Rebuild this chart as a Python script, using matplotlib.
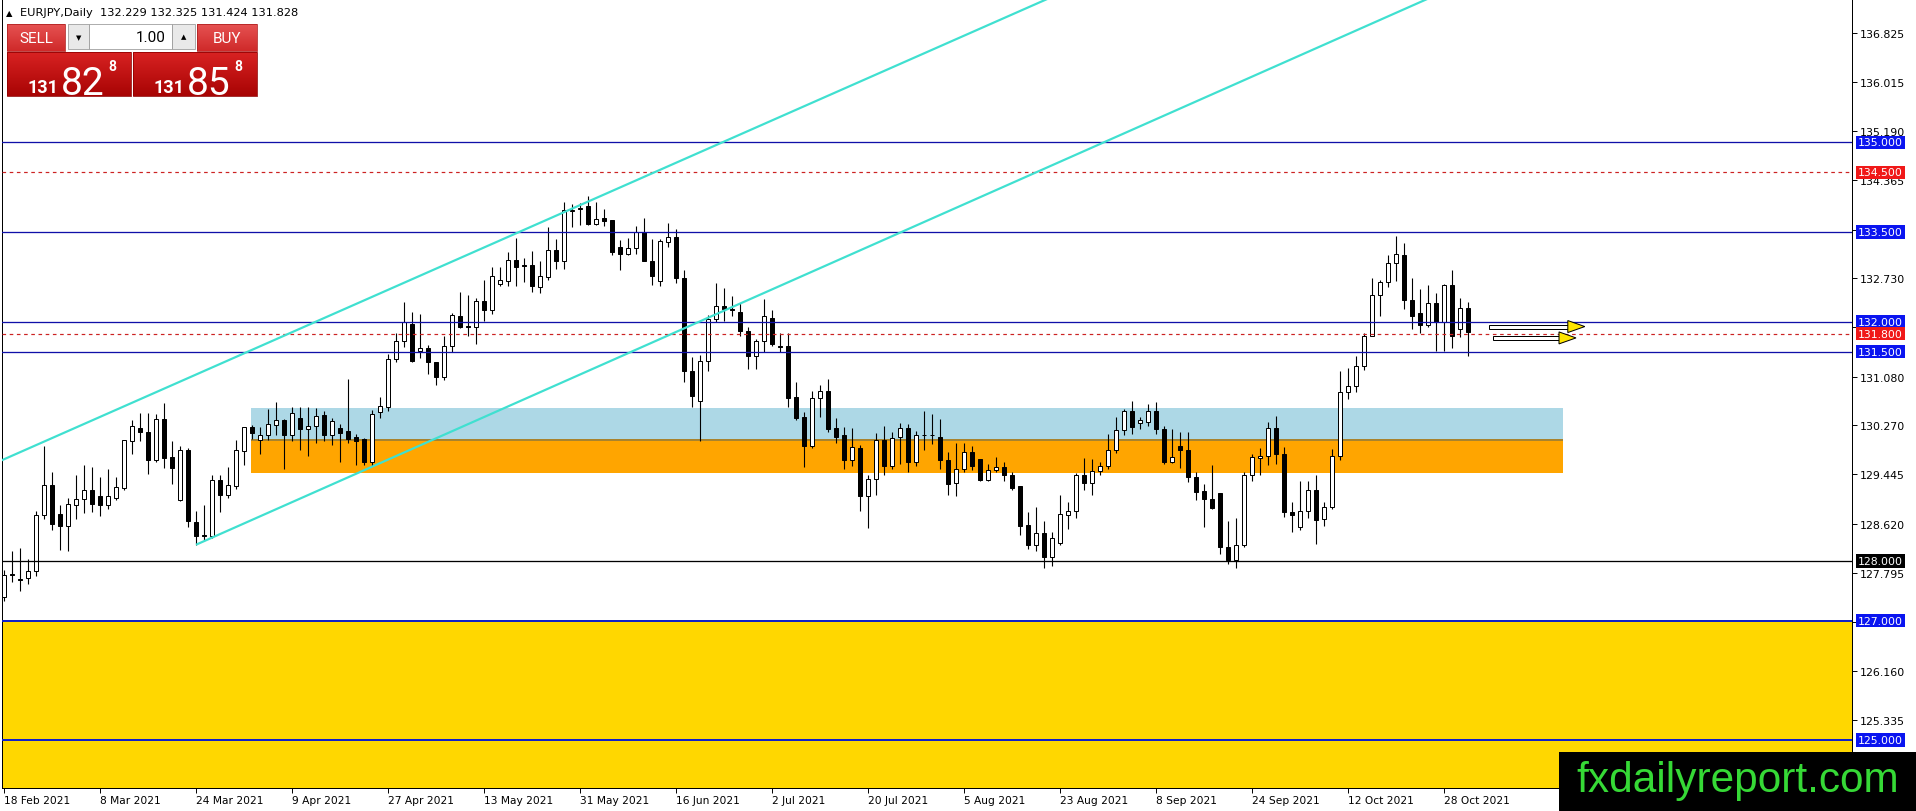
import matplotlib
matplotlib.use("Agg")
import matplotlib.pyplot as plt
import numpy as np
from matplotlib.patches import Rectangle, Polygon
from matplotlib.transforms import blended_transform_factory
from matplotlib.colors import LinearSegmentedColormap

# ---------------- data ----------------
symbol = "EURJPY,Daily"
header_ohlc = ["132.229", "132.325", "131.424", "131.828"]

opens = [127.40, 127.78, 127.70, 127.71, 127.83, 128.77, 129.27, 128.79, 128.59, 128.94,
         129.03, 129.19, 129.08, 128.94, 129.05, 129.22, 130.01, 130.22, 130.15, 129.68,
         130.37, 129.73, 129.01, 129.86, 128.65, 128.44, 128.42, 129.35, 129.11, 129.26,
         129.83, 130.24, 130.03, 130.10, 130.28, 130.36, 130.11, 130.39, 130.21, 130.26,
         130.44, 130.11, 130.22, 130.17, 130.07, 130.04, 129.66, 130.49, 130.57, 131.37,
         131.67, 131.97, 131.51, 131.56, 131.32, 131.07, 131.59, 132.09, 131.93, 131.91,
         132.34, 132.20, 132.64, 132.69, 133.03, 132.94, 132.95, 132.59, 132.75, 133.20,
         133.02, 133.86, 133.89, 133.93, 133.63, 133.74, 133.70, 133.25, 133.13, 133.23,
         133.50, 133.01, 132.69, 133.34, 133.41, 132.73, 131.17, 130.67, 131.35, 132.05,
         132.26, 132.22, 132.17, 131.85, 131.42, 131.67, 132.07, 131.60, 131.59, 130.74,
         130.40, 129.92, 130.72, 130.84, 130.22, 130.10, 129.69, 129.88, 129.08, 129.37,
         130.02, 129.58, 130.07, 130.22, 129.66, 130.10, 130.10, 130.08, 129.69, 129.30,
         129.54, 129.82, 129.71, 129.36, 129.52, 129.57, 129.44, 129.25, 128.60, 128.26,
         128.47, 128.06, 128.30, 128.77, 128.83, 129.44, 129.30, 129.51, 129.58, 129.85,
         130.19, 130.50, 130.31, 130.33, 130.50, 130.21, 129.66, 129.92, 129.86, 129.40,
         129.17, 129.04, 129.14, 128.24, 128.02, 128.26, 129.43, 129.72, 129.75, 130.22,
         129.78, 128.81, 128.56, 128.84, 129.19, 128.70, 128.90, 129.75, 130.82, 130.92,
         131.26, 131.76, 132.45, 132.66, 132.98, 133.12, 132.37, 132.14, 131.94, 132.31,
         131.99, 132.62, 131.88, 132.229]
highs = [127.85, 128.16, 128.21, 128.03, 128.84, 129.93, 129.48, 128.93, 129.06, 129.44,
         129.61, 129.57, 129.40, 129.53, 129.41, 130.03, 130.36, 130.47, 130.47, 130.45,
         130.64, 130.01, 129.93, 129.88, 128.84, 128.93, 129.43, 129.43, 129.57, 130.02,
         130.24, 130.27, 130.24, 130.54, 130.65, 130.38, 130.57, 130.57, 130.57, 130.55,
         130.51, 130.39, 130.29, 131.04, 130.12, 130.05, 130.53, 130.74, 131.46, 131.81,
         132.33, 132.16, 132.13, 131.61, 131.33, 131.77, 132.15, 132.49, 132.45, 132.39,
         132.70, 132.91, 132.91, 133.17, 133.40, 133.06, 133.18, 133.01, 133.59, 133.38,
         134.01, 133.97, 133.99, 134.11, 134.01, 133.89, 133.70, 133.36, 133.40, 133.61,
         133.73, 133.38, 133.38, 133.65, 133.55, 132.86, 131.41, 131.44, 132.11, 132.65,
         132.56, 132.43, 132.31, 131.91, 131.71, 132.38, 132.19, 131.81, 131.81, 130.99,
         130.49, 130.85, 130.94, 131.04, 130.39, 130.24, 130.23, 129.94, 129.43, 130.14,
         130.25, 130.15, 130.31, 130.29, 130.18, 130.51, 130.46, 130.37, 129.82, 129.98,
         129.98, 129.92, 129.71, 129.62, 129.74, 129.65, 129.49, 129.25, 128.82, 128.90,
         128.66, 128.48, 129.10, 128.98, 129.47, 129.72, 129.71, 129.66, 130.12, 130.40,
         130.54, 130.68, 130.40, 130.63, 130.65, 130.26, 130.21, 130.16, 130.16, 129.48,
         129.29, 129.61, 129.14, 128.66, 128.71, 129.49, 129.79, 129.88, 130.32, 130.42,
         129.91, 128.99, 129.33, 129.34, 129.44, 128.99, 129.87, 131.17, 131.22, 131.42,
         131.81, 132.73, 132.70, 133.12, 133.43, 133.32, 132.74, 132.55, 132.62, 132.48,
         132.64, 132.87, 132.39, 132.325]
lows = [127.33, 127.64, 127.49, 127.62, 127.74, 128.70, 128.52, 128.19, 128.16, 128.70,
        128.80, 128.81, 128.75, 128.86, 129.01, 129.18, 129.78, 130.01, 129.45, 129.65,
        129.56, 129.29, 129.00, 128.57, 128.27, 128.34, 128.38, 128.81, 129.06, 129.20,
        129.61, 130.04, 129.79, 130.03, 130.11, 129.54, 130.00, 129.86, 129.76, 129.98,
        130.00, 129.94, 129.66, 129.97, 129.61, 129.61, 129.58, 130.39, 130.51, 131.32,
        131.57, 131.33, 131.39, 131.12, 130.95, 131.02, 131.49, 131.89, 131.76, 131.63,
        132.02, 132.13, 132.60, 132.60, 132.60, 132.67, 132.50, 132.48, 132.70, 132.88,
        132.88, 133.58, 133.62, 133.62, 133.62, 133.60, 133.11, 132.86, 133.11, 133.14,
        133.01, 132.62, 132.60, 133.25, 132.65, 131.00, 130.57, 130.01, 131.18, 132.00,
        132.02, 132.09, 131.77, 131.21, 131.21, 131.49, 131.60, 131.49, 130.57, 130.35,
        129.57, 129.88, 130.40, 130.16, 129.97, 129.54, 129.58, 128.84, 128.55, 129.11,
        129.43, 129.53, 129.62, 129.49, 129.58, 129.85, 129.96, 129.54, 129.10, 129.09,
        129.48, 129.52, 129.34, 129.34, 129.48, 129.34, 129.18, 128.44, 128.20, 128.17,
        127.88, 127.91, 128.26, 128.54, 128.71, 129.18, 129.11, 129.43, 129.53, 129.81,
        130.11, 130.12, 130.21, 130.25, 130.13, 129.62, 129.63, 129.55, 129.32, 129.01,
        128.56, 128.86, 128.12, 127.95, 127.88, 128.24, 129.33, 129.44, 129.61, 129.62,
        128.73, 128.49, 128.52, 128.72, 128.28, 128.58, 128.87, 129.69, 130.70, 130.83,
        131.20, 131.76, 132.09, 132.58, 132.69, 132.21, 131.88, 131.81, 131.91, 131.51,
        131.51, 131.56, 131.74, 131.424]
closes = [127.76, 127.77, 127.68, 127.83, 128.77, 129.27, 128.61, 128.59, 128.95, 129.04,
          129.19, 128.95, 128.94, 129.08, 129.23, 130.02, 130.26, 130.15, 129.68, 130.37,
          129.72, 129.56, 129.86, 128.66, 128.41, 128.41, 129.35, 129.11, 129.27, 129.85,
          130.24, 130.14, 130.10, 130.29, 130.36, 130.11, 130.47, 130.21, 130.25, 130.43,
          130.11, 130.34, 130.14, 130.04, 130.01, 129.66, 130.45, 130.59, 131.37, 131.67,
          132.00, 131.35, 131.56, 131.32, 131.07, 131.59, 132.11, 131.91, 131.92, 132.34,
          132.19, 132.76, 132.70, 133.03, 132.92, 132.93, 132.60, 132.76, 133.20, 133.02,
          133.87, 133.87, 133.90, 133.63, 133.72, 133.69, 133.17, 133.13, 133.23, 133.51,
          133.01, 132.77, 133.35, 133.41, 132.73, 131.17, 130.75, 131.35, 132.05, 132.26,
          132.21, 132.20, 131.85, 131.42, 131.67, 132.09, 131.63, 131.58, 130.72, 130.39,
          129.92, 130.72, 130.84, 130.21, 130.08, 129.69, 129.90, 129.08, 129.37, 130.02,
          129.58, 130.05, 130.22, 129.66, 130.11, 130.10, 130.10, 129.68, 129.28, 129.54,
          129.82, 129.58, 129.36, 129.52, 129.57, 129.44, 129.22, 128.59, 128.26, 128.47,
          128.06, 128.38, 128.79, 128.83, 129.44, 129.30, 129.51, 129.58, 129.86, 130.19,
          130.50, 130.24, 130.35, 130.50, 130.21, 129.66, 129.73, 129.85, 129.40, 129.16,
          129.03, 128.89, 128.24, 128.02, 128.26, 129.43, 129.73, 129.75, 130.22, 129.78,
          128.81, 128.76, 128.84, 129.19, 128.69, 128.90, 129.76, 130.82, 130.92, 131.26,
          131.76, 132.45, 132.66, 132.98, 133.13, 132.37, 132.09, 131.95, 132.31, 131.99,
          132.62, 131.76, 132.23, 131.828]

date_labels = ["18 Feb 2021", "8 Mar 2021", "24 Mar 2021", "9 Apr 2021", "27 Apr 2021",
               "13 May 2021", "31 May 2021", "16 Jun 2021", "2 Jul 2021", "20 Jul 2021",
               "5 Aug 2021", "23 Aug 2021", "8 Sep 2021", "24 Sep 2021", "12 Oct 2021",
               "28 Oct 2021"]
date_bars = [0, 12, 24, 36, 48, 60, 72, 84, 96, 108, 120, 132, 144, 156, 168, 180]

price_ticks = [136.825, 136.015, 135.190, 134.365, 133.540, 132.730, 131.905, 131.080,
               130.270, 129.445, 128.620, 127.795, 126.970, 126.160, 125.335]

blue_levels = [135.0, 133.5, 132.0, 131.5]
strong_blue_levels = [127.0, 125.0]
red_levels = [134.5, 131.8]
black_levels = [128.0]
label_levels = [135.0, 134.5, 133.5, 132.0, 131.8, 131.5, 128.0, 127.0, 125.0]
label_kinds = ["blue", "red", "blue", "blue", "red", "blue", "black", "blue", "blue"]

zone_bars = [30.9, 194.9]
blue_zone = [130.02, 130.56]
orange_zone = [129.47, 130.02]
yellow_zone = [123.0, 127.0]

channel_lower = [(24.0, 128.27), (177.9, 137.40)]
channel_upper = [(-0.5, 129.67), (130.4, 137.40)]

arrow_start = [185.6, 186.1]
arrow_tip = [197.6, 196.5]
arrow_price = [131.92, 131.73]

sell_price = ("131", "82", "8")
buy_price = ("131", "85", "8")
lot_text = "1.00"
watermark = "fxdailyreport.com"

# ---------------- figure ----------------
W, H = 1916, 812
fig = plt.figure(figsize=(W / 100, H / 100), dpi=100)
fig.patch.set_facecolor("white")

AX_L, AX_R, AX_T, AX_B = 2, 1852, 0, 789
ax = fig.add_axes([AX_L / W, (H - AX_B) / H, (AX_R - AX_L) / W, (AX_B - AX_T) / H])
XMIN, XMAX = -0.25, 231.0
YMIN, YMAX = 124.20, 137.40
ax.set_xlim(XMIN, XMAX)
ax.set_ylim(YMIN, YMAX)
ax.set_facecolor("white")

px_y = (YMAX - YMIN) / (AX_B - AX_T)     # price per pixel
px_x = (XMAX - XMIN) / (AX_R - AX_L)     # bars per pixel
PT = 0.72                                # points per pixel

# yellow band
ax.axhspan(yellow_zone[0], yellow_zone[1], color="#FFD700", zorder=0.5, lw=0)

# zones (rectangles)
ax.add_patch(Rectangle((zone_bars[0], blue_zone[0]), zone_bars[1] - zone_bars[0],
                       blue_zone[1] - blue_zone[0], fc="#ADD8E6", ec="none", zorder=1))
ax.add_patch(Rectangle((zone_bars[0], orange_zone[0]), zone_bars[1] - zone_bars[0],
                       orange_zone[1] - orange_zone[0], fc="#FFA500", ec="none", zorder=1))
ax.plot(zone_bars, [orange_zone[1], orange_zone[1]], color="#A8832E", lw=2 * PT, zorder=1.1,
        solid_capstyle="butt")

# candles
o = np.array(opens); h = np.array(highs); l = np.array(lows); c = np.array(closes)
x = np.arange(len(o))
up = c >= o
ax.vlines(x, l, h, color="black", lw=1.1 * PT, zorder=3)
bottom = np.minimum(o, c)
height = np.maximum(np.abs(c - o), 0.012)
bw = 4.8 * px_x
ax.bar(x[up], height[up], bottom=bottom[up], width=bw, facecolor="white",
       edgecolor="black", linewidth=1.0 * PT, zorder=3.1)
ax.bar(x[~up], height[~up], bottom=bottom[~up], width=bw, facecolor="black",
       edgecolor="black", linewidth=1.0 * PT, zorder=3.1)

# horizontal levels
for lv in blue_levels:
    ax.axhline(lv, color="#1010A8", lw=1.3 * PT, zorder=4)
for lv in strong_blue_levels:
    ax.axhline(lv, color="#1020C8", lw=2.0 * PT, zorder=4)
for lv in red_levels:
    ax.axhline(lv, color="#CC2222", lw=1.2 * PT, ls=(0, (3, 3)), zorder=4)
for lv in black_levels:
    ax.axhline(lv, color="black", lw=1.3 * PT, zorder=4)

# channel lines (rays)
for (x1, y1), (x2, y2) in (channel_lower, channel_upper):
    slope = (y2 - y1) / (x2 - x1)
    xe = XMAX + 20
    ax.plot([x1, xe], [y1, y1 + slope * (xe - x1)], color="#40E0D0", lw=2.2 * PT,
            zorder=4.5, solid_capstyle="butt")
(x1, y1), (x2, y2) = channel_upper
slope = (y2 - y1) / (x2 - x1)
ax.plot([XMIN - 5, x1], [y1 - slope * (x1 - XMIN + 5), y1], color="#40E0D0", lw=2.2 * PT,
        zorder=4.5)

# arrows
for xs, xt, yp in zip(arrow_start, arrow_tip, arrow_price):
    hl = 17 * px_x
    ax.add_patch(Rectangle((xs, yp - 2 * px_y), (xt - hl) - xs, 4 * px_y, fc="white",
                           ec="black", lw=1.0 * PT, zorder=5))
    ax.add_patch(Polygon([(xt - hl, yp + 6 * px_y), (xt, yp), (xt - hl, yp - 6 * px_y)],
                         closed=True, fc="#FFE600", ec="black", lw=1.0 * PT, zorder=5.1))

# axes styling
ax.spines["top"].set_visible(False)
for s in ("left", "right", "bottom"):
    ax.spines[s].set_color("black")
    ax.spines[s].set_linewidth(1.0 * PT)
ax.yaxis.tick_right()
ax.set_yticks(price_ticks)
ax.set_yticklabels([f"{v:.3f}" for v in price_ticks], fontsize=7.9, family="DejaVu Sans")
ax.tick_params(axis="y", which="both", length=3.5, width=0.7, pad=2.4, colors="black",
               left=False, right=True)
ax.set_xticks(date_bars)
ax.set_xticklabels(date_labels, ha="left", fontsize=7.7, family="DejaVu Sans")
ax.tick_params(axis="x", length=3.5, width=0.7, pad=1.5, colors="black")

# level labels on the price axis
trans = blended_transform_factory(ax.transAxes, ax.transData)
kind_color = {"blue": "#0A14F0", "red": "#F01818", "black": "#000000"}
for lv, kd in zip(label_levels, label_kinds):
    ax.text(1.0 + 6 / (AX_R - AX_L), lv, f"{lv:.3f}", transform=trans, ha="left",
            va="center", fontsize=7.8, family="DejaVu Sans", color="white", zorder=10,
            clip_on=False,
            bbox=dict(boxstyle="square,pad=0.16", fc=kind_color[kd], ec="none"))

# ---------------- overlay (panel, header, watermark) ----------------
ov = fig.add_axes([0, 0, 1, 1], zorder=5)
ov.patch.set_alpha(0)
ov.axis("off")


def grad_box(x0, y0, x1, y1, ctop, cbot, ec):
    cmap = LinearSegmentedColormap.from_list("g", [ctop, cbot])
    ov.imshow(np.linspace(0, 1, 64).reshape(-1, 1), extent=(x0, x1, y1, y0), cmap=cmap,
              aspect="auto", zorder=1, interpolation="bilinear", origin="upper")
    ov.add_patch(Rectangle((x0, y0), x1 - x0, y1 - y0, fc="none", ec=ec, lw=0.8 * PT, zorder=2))


narrow = ["Liberation Sans Narrow", "Roboto", "DejaVu Sans"]

# header
ov.text(6, 13.5, "\u25B2", fontsize=6, va="center", ha="left", family="DejaVu Sans")
ov.text(20, 13.5, symbol + "  " + " ".join(header_ohlc), fontsize=8.2, va="center",
        ha="left", family="DejaVu Sans", color="black")

# buttons
grad_box(7, 25, 65, 52, "#E65252", "#CF2A2A", "#B02020")
grad_box(197, 25, 257, 52, "#E65252", "#CF2A2A", "#B02020")
ov.add_patch(Rectangle((68, 25), 21, 25, fc="#E9E9E9", ec="#9A9A9A", lw=0.8 * PT, zorder=2))
ov.add_patch(Rectangle((89, 25), 83, 25, fc="white", ec="#9A9A9A", lw=0.8 * PT, zorder=2))
ov.add_patch(Rectangle((172, 25), 23, 25, fc="#E9E9E9", ec="#9A9A9A", lw=0.8 * PT, zorder=2))
ov.text(36, 39, "SELL", fontsize=11, color="white", ha="center", va="center", family=narrow,
        zorder=3)
ov.text(227, 39, "BUY", fontsize=11, color="white", ha="center", va="center", family=narrow,
        zorder=3)
ov.text(79, 38, "\u25BC", fontsize=5, color="black", ha="center", va="center",
        family="DejaVu Sans", zorder=3)
ov.text(183.5, 37, "\u25B2", fontsize=5, color="black", ha="center", va="center",
        family="DejaVu Sans", zorder=3)
ov.text(166, 38, lot_text, fontsize=11, color="black", ha="right", va="center", family=narrow,
        zorder=3)

# price boxes
grad_box(7, 53, 131, 97, "#D82222", "#A80404", "#900000")
grad_box(133, 53, 257, 97, "#D82222", "#A80404", "#900000")
for (big0, big1, sup), x0 in ((sell_price, 28), (buy_price, 154)):
    ov.text(x0, 93, big0, fontsize=13, fontweight="bold", color="white", ha="left",
            va="baseline", family=narrow, zorder=3)
    ov.text(x0 + 33, 95, big1, fontsize=28, color="white", ha="left", va="baseline",
            family=narrow, zorder=3)
    ov.text(x0 + 80, 71, sup, fontsize=10, fontweight="bold", color="white", ha="left",
            va="baseline", family=narrow, zorder=3)

# watermark
ov.add_patch(Rectangle((1559, 753), W - 1559, H - 753, fc="black", ec="none", zorder=4))
ov.text(1738, 781, watermark, fontsize=30.5, color="#36D936", ha="center", va="center",
        family="Liberation Sans", zorder=5)

ov.set_xlim(0, W)
ov.set_ylim(H, 0)

fig.savefig("out.png", dpi=100, facecolor="white")
